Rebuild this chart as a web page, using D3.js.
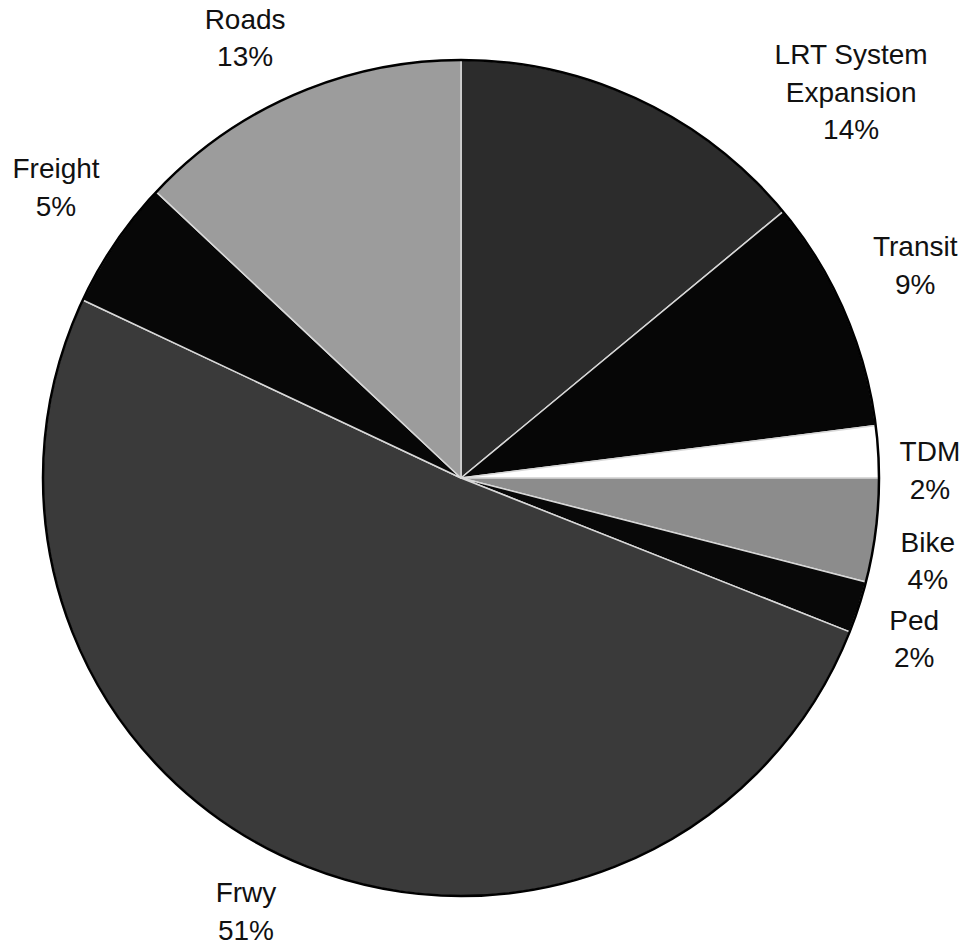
<!DOCTYPE html>
<html>
<head>
<meta charset="utf-8">
<script src="https://cdn.jsdelivr.net/npm/d3@7"></script>
<style>
  html, body { margin: 0; padding: 0; background: #fff; }
  svg { display: block; }
  text { font-family: "Liberation Sans", Arial, Helvetica, sans-serif; }
</style>
</head>
<body>
<svg id="chart" width="969" height="946"></svg>
<script>
// Share of spending by category, clockwise from 12 o'clock
const categories = ["LRT System\nExpansion", "Transit", "TDM", "Bike", "Ped", "Frwy", "Freight", "Roads"];
const shares = [14, 9, 2, 4, 2, 51, 5, 13];

// Slice fills (halftone greys of the printed chart)
const fills = ["#2c2c2c", "#060606", "#ffffff", "#8c8c8c", "#080808", "#3a3a3a", "#070707", "#9c9c9c"];

// Label placement: polar angle (degrees clockwise from top) and distance in radii
const labelAngle = [45.3, 64.9, 89.0, 100.0, 109.5, 206.4, -54.3, -26.1];
const labelDist = [1.313, 1.2, 1.122, 1.134, 1.15, 1.157, 1.193, 1.174];

const W = 969, H = 946;
const cx = 461, cy = 478, R = 418;
const fontSize = 28, lineH = 37.5, capMid = 10;

const svg = d3.select("#chart");
svg.append("rect").attr("width", W).attr("height", H).attr("fill", "#fff");

const data = categories.map((c, i) => ({ name: c, value: shares[i], fill: fills[i], i }));

const pie = d3.pie().sort(null).value(d => d.value).startAngle(0).endAngle(2 * Math.PI);
const arc = d3.arc().innerRadius(0).outerRadius(R);

const g = svg.append("g").attr("transform", `translate(${cx},${cy})`);

g.selectAll("path.slice")
  .data(pie(data))
  .join("path")
  .attr("class", "slice")
  .attr("d", arc)
  .attr("fill", d => d.data.fill)
  .attr("stroke", "#d8d8d8")
  .attr("stroke-width", 1.5)
  .attr("stroke-linejoin", "round");

// Outer rim
g.append("circle")
  .attr("r", R)
  .attr("fill", "none")
  .attr("stroke", "#000")
  .attr("stroke-width", 2.5);

// Category labels with percentages
const labels = svg.append("g").attr("fill", "#111").attr("font-size", fontSize).attr("text-anchor", "middle");

data.forEach((d, i) => {
  const a = labelAngle[i] * Math.PI / 180;
  const px = cx + R * labelDist[i] * Math.sin(a);
  const py = cy - R * labelDist[i] * Math.cos(a);
  const lines = d.name.split("\n").concat([d.value + "%"]);
  const t = labels.append("text");
  lines.forEach((ln, k) => {
    t.append("tspan")
      .attr("x", px)
      .attr("y", py + (k - (lines.length - 1) / 2) * lineH + capMid)
      .text(ln);
  });
});
</script>
</body>
</html>
